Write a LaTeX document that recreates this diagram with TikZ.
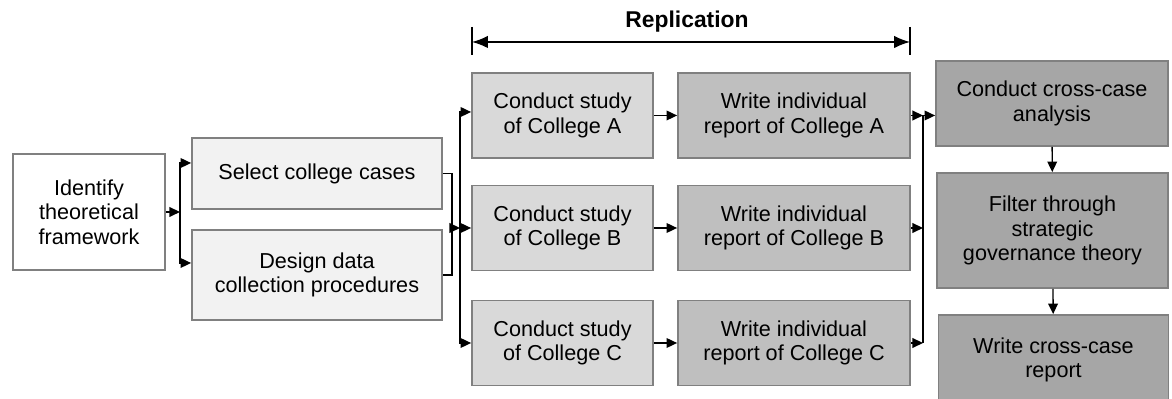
\documentclass[tikz,border=0pt]{standalone}
\usepackage{fontspec}
\setmainfont{Liberation Sans}
\usepackage {tikz}
\usetikzlibrary {positioning,arrows.meta}
\definecolor {boxline}{HTML}{808080}
\definecolor {palegray}{HTML}{F2F2F2}
\definecolor {lightgray}{HTML}{D9D9D9}
\definecolor {midgray}{HTML}{BFBFBF}
\definecolor {darkgray}{HTML}{A6A6A6}

\begin{document}
\begin{tikzpicture}[-{Triangle[length=6pt,width=5.5pt]}, line width=0.8pt,
  font=\fontsize{12.3pt}{14pt}\selectfont]
  \tikzstyle{stage}=[rectangle, draw=boxline, line width=1pt, align=center,
inner sep=0pt, text=black]
  \useasboundingbox (0,0) rectangle (23.44,7.98);

  \node[stage, fill=white, minimum width=3.04cm, minimum height=2.32cm] (S_1) at (1.78,3.74) {Identify\\theoretical\\framework};
  \node[stage, fill=palegray, minimum width=5cm, minimum height=1.42cm] (S_2) at (6.34,4.51) {Select college cases};
  \node[stage, fill=palegray, minimum width=5cm, minimum height=1.8cm] (S_3) at (6.34,2.48) {Design data\\collection procedures};
  \node[stage, fill=lightgray, minimum width=3.62cm, minimum height=1.7cm] (S_4) at (11.25,5.67) {Conduct study\\of College A};
  \node[stage, fill=midgray, minimum width=4.64cm, minimum height=1.7cm] (S_5) at (15.88,5.67) {Write individual\\report of College A};
  \node[stage, fill=lightgray, minimum width=3.62cm, minimum height=1.7cm] (S_6) at (11.25,3.42) {Conduct study\\of College B};
  \node[stage, fill=midgray, minimum width=4.64cm, minimum height=1.7cm] (S_7) at (15.88,3.42) {Write individual\\report of College B};
  \node[stage, fill=lightgray, minimum width=3.62cm, minimum height=1.7cm] (S_8) at (11.25,1.12) {Conduct study\\of College C};
  \node[stage, fill=midgray, minimum width=4.64cm, minimum height=1.7cm] (S_9) at (15.88,1.12) {Write individual\\report of College C};
  \node[stage, fill=darkgray, minimum width=4.64cm, minimum height=1.7cm] (S_10) at (21.04,5.91) {Conduct cross-case\\analysis};
  \node[stage, fill=darkgray, minimum width=4.62cm, minimum height=2.3cm] (S_11) at (21.05,3.37) {Filter through\\strategic\\governance theory};
  \node[stage, fill=darkgray, minimum width=4.6cm, minimum height=1.8cm] (S_12) at (21.07,0.78) {Write cross-case\\report};

  \node[font=\bfseries\fontsize{13pt}{14pt}\selectfont] (R) at (13.74,7.54) {Replication};
  \coordinate (R_1) at (9.44,7.14);
  \coordinate (R_2) at (18.2,7.14);
  \draw[{Latex[length=9pt,width=7pt]}-{Latex[length=9pt,width=7pt]}] (R_1) -- (R_2);
  \draw[-] ([yshift=0.3cm]R_1) -- ([yshift=-0.26cm]R_1);
  \draw[-] ([yshift=0.3cm]R_2) -- ([yshift=-0.26cm]R_2);

  \coordinate (J_1) at (3.6,3.74);
  \coordinate (J_2) at (9.04,3.42);
  \coordinate (J_3) at (9.2,3.42);
  \coordinate (J_4) at (18.46,5.67);

  \draw (S_1) -- (J_1);
  \draw (J_1) |- ([yshift=0.21cm]S_2.west);
  \draw (J_1) |- ([yshift=0.24cm]S_3.west);
  \draw[-] (S_2.east) -| (J_2) |- (S_3.east);
  \draw (J_2) -- (J_3);
  \draw (J_3) |- ([yshift=0.07cm]S_4.west);
  \draw (J_3) -- (S_6.west);
  \draw (J_3) |- (S_8.west);

  \draw (S_4) -- (S_5);
  \draw (S_6) -- (S_7);
  \draw (S_8) -- (S_9);

  \draw (S_5) -- (J_4);
  \draw (S_7) -- (S_7 -| J_4);
  \draw (S_9) -- (S_9 -| J_4);
  \draw[-] (J_4) -- (S_9 -| J_4);
  \draw (J_4) -- (J_4 -| S_10.west);

  \draw (S_10) -- (S_11);
  \draw (S_11) -- (S_12);
\end{tikzpicture}
\end{document}
